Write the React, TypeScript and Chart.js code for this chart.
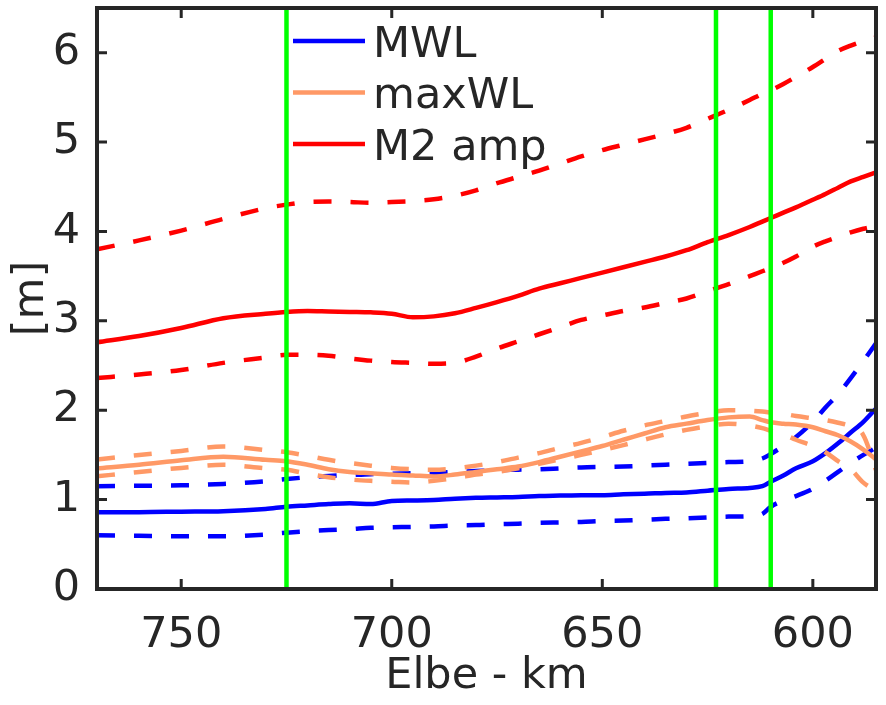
import { useEffect, useRef } from 'react';
import { Chart, registerables } from 'chart.js';

Chart.register(...registerables);

// Elbe-km positions shared by all profiles (x axis is reversed)
const KM = [770, 760, 750, 740, 730, 725, 720, 715, 710, 705, 700, 695, 690, 685, 680, 675, 670, 665, 660, 655, 650, 645, 640, 635, 630, 625, 620, 615, 612, 610, 607, 604, 600, 597, 594, 591, 588, 585];

const MWL = [0.86, 0.86, 0.865, 0.87, 0.895, 0.92, 0.935, 0.95, 0.96, 0.95, 0.985, 0.99, 0.995, 1.01, 1.02, 1.025, 1.03, 1.04, 1.045, 1.05, 1.05, 1.06, 1.065, 1.075, 1.08, 1.1, 1.12, 1.13, 1.15, 1.2, 1.27, 1.35, 1.43, 1.52, 1.63, 1.75, 1.87, 2.02];
const MWL_HI = [1.15, 1.155, 1.16, 1.175, 1.205, 1.23, 1.25, 1.265, 1.275, 1.285, 1.29, 1.295, 1.3, 1.31, 1.32, 1.33, 1.335, 1.34, 1.35, 1.36, 1.365, 1.37, 1.38, 1.39, 1.4, 1.41, 1.42, 1.43, 1.46, 1.51, 1.6, 1.7, 1.87, 2.03, 2.18, 2.36, 2.55, 2.75];
const MWL_LO = [0.6, 0.595, 0.59, 0.59, 0.61, 0.63, 0.645, 0.66, 0.67, 0.685, 0.69, 0.695, 0.7, 0.71, 0.715, 0.725, 0.73, 0.74, 0.745, 0.75, 0.76, 0.765, 0.775, 0.785, 0.79, 0.8, 0.81, 0.815, 0.84, 0.92, 0.99, 1.04, 1.12, 1.21, 1.31, 1.41, 1.5, 1.58];

const MAXWL = [1.35, 1.39, 1.44, 1.48, 1.445, 1.43, 1.39, 1.34, 1.31, 1.295, 1.28, 1.27, 1.26, 1.28, 1.31, 1.34, 1.37, 1.42, 1.48, 1.54, 1.6, 1.67, 1.74, 1.81, 1.85, 1.89, 1.92, 1.93, 1.89, 1.865, 1.85, 1.84, 1.81, 1.765, 1.72, 1.65, 1.56, 1.45];
const MAXWL_HI = [1.45, 1.5, 1.545, 1.595, 1.555, 1.53, 1.49, 1.445, 1.41, 1.38, 1.355, 1.34, 1.335, 1.35, 1.38, 1.42, 1.47, 1.52, 1.58, 1.635, 1.7, 1.77, 1.83, 1.88, 1.93, 1.97, 2.0, 1.995, 1.985, 1.975, 1.96, 1.935, 1.91, 1.89, 1.86, 1.82, 1.72, 1.33];
const MAXWL_LO = [1.26, 1.31, 1.355, 1.39, 1.35, 1.335, 1.29, 1.25, 1.225, 1.21, 1.2, 1.19, 1.21, 1.24, 1.28, 1.31, 1.35, 1.4, 1.45, 1.5, 1.555, 1.61, 1.67, 1.73, 1.78, 1.82, 1.85, 1.83, 1.8, 1.77, 1.73, 1.67, 1.6, 1.53, 1.43, 1.34, 1.19, 1.1];

const M2 = [2.76, 2.83, 2.92, 3.03, 3.08, 3.1, 3.11, 3.105, 3.1, 3.095, 3.08, 3.04, 3.05, 3.085, 3.145, 3.21, 3.28, 3.36, 3.42, 3.48, 3.54, 3.6, 3.66, 3.72, 3.79, 3.88, 3.96, 4.05, 4.11, 4.15, 4.21, 4.27, 4.355, 4.42, 4.49, 4.56, 4.61, 4.66];
const M2_HI = [3.8, 3.9, 4.01, 4.14, 4.26, 4.3, 4.33, 4.335, 4.33, 4.32, 4.33, 4.34, 4.36, 4.4, 4.46, 4.54, 4.61, 4.68, 4.76, 4.84, 4.91, 4.97, 5.03, 5.09, 5.16, 5.26, 5.36, 5.47, 5.54, 5.58, 5.65, 5.73, 5.84, 5.93, 6.02, 6.08, 6.13, 6.17];
const M2_LO = [2.36, 2.4, 2.45, 2.53, 2.59, 2.62, 2.62, 2.61, 2.58, 2.555, 2.54, 2.53, 2.52, 2.53, 2.6, 2.69, 2.77, 2.85, 2.93, 3.01, 3.06, 3.11, 3.15, 3.2, 3.25, 3.33, 3.41, 3.5, 3.555, 3.59, 3.65, 3.72, 3.83, 3.89, 3.94, 3.99, 4.03, 4.06];

// green markers
const MARK_KM = [725, 623, 610];

const X_TICKS = [750, 700, 650, 600];
const Y_TICKS = [0, 1, 2, 3, 4, 5, 6];
const X_MIN = 585;
const X_MAX = 770;
const Y_MAX = 6.5;

const LEGEND_LABELS = ['MWL', 'maxWL', 'M2 amp'];

const BLUE = '#0000ff';
const ORANGE = '#ff9966';
const RED = '#ff0000';
const GREEN = '#00ff00';
const INK = '#262626';
const LEGEND_COLORS = [BLUE, ORANGE, RED];

const FONT = 'DejaVu Sans';
const FONT_SIZE = 43;
const LW = 4.5;
const DASH = [18, 19];

function line(values: number[], color: string, dashed: boolean, order: number) {
  return {
    data: KM.map((x, i) => ({ x, y: values[i] })),
    borderColor: color,
    borderWidth: LW,
    borderDash: dashed ? DASH : [],
    pointRadius: 0,
    cubicInterpolationMode: 'monotone' as const,
    fill: false,
    order,
  };
}

// box round the axes with inward tick marks on all four sides
const framePlugin = {
  id: 'frame',
  afterDatasetsDraw(chart: any) {
    const { ctx, chartArea: a, scales } = chart;
    const tick = 10;
    ctx.save();
    ctx.strokeStyle = INK;
    ctx.lineWidth = 3;
    ctx.beginPath();
    X_TICKS.forEach((v) => {
      const px = scales.x.getPixelForValue(v);
      ctx.moveTo(px, a.bottom);
      ctx.lineTo(px, a.bottom - tick);
      ctx.moveTo(px, a.top);
      ctx.lineTo(px, a.top + tick);
    });
    Y_TICKS.forEach((v) => {
      const py = scales.y.getPixelForValue(v);
      ctx.moveTo(a.left, py);
      ctx.lineTo(a.left + tick, py);
      ctx.moveTo(a.right, py);
      ctx.lineTo(a.right - tick, py);
    });
    ctx.stroke();
    ctx.lineWidth = 4;
    ctx.strokeRect(a.left, a.top, a.right - a.left, a.bottom - a.top);
    ctx.restore();
  },
};

// legend without box, inside the axes
const legendPlugin = {
  id: 'boxoffLegend',
  afterDraw(chart: any) {
    const { ctx, chartArea: a } = chart;
    const x0 = a.left + 196;
    const y0 = a.top + 33;
    ctx.save();
    ctx.font = `${FONT_SIZE}px "${FONT}"`;
    ctx.textBaseline = 'alphabetic';
    ctx.textAlign = 'left';
    LEGEND_LABELS.forEach((label, i) => {
      const y = y0 + i * 51.5;
      ctx.strokeStyle = LEGEND_COLORS[i];
      ctx.lineWidth = LW;
      ctx.beginPath();
      ctx.moveTo(x0, y);
      ctx.lineTo(x0 + 72, y);
      ctx.stroke();
      ctx.fillStyle = INK;
      ctx.fillText(label, x0 + 80, y + 0.365 * FONT_SIZE);
    });
    ctx.restore();
  },
};

export default function App() {
  const canvasRef = useRef<HTMLCanvasElement>(null);

  useEffect(() => {
    if (!canvasRef.current) return;

    const markers = MARK_KM.map((k) => ({
      data: [
        { x: k, y: 0 },
        { x: k, y: Y_MAX },
      ],
      borderColor: GREEN,
      borderWidth: LW,
      pointRadius: 0,
      fill: false,
      order: 0,
    }));

    const chart = new Chart(canvasRef.current, {
      type: 'line',
      data: {
        datasets: [
          ...markers,
          line(M2, RED, false, 1),
          line(M2_HI, RED, true, 1),
          line(M2_LO, RED, true, 1),
          line(MAXWL, ORANGE, false, 2),
          line(MAXWL_HI, ORANGE, true, 2),
          line(MAXWL_LO, ORANGE, true, 2),
          line(MWL, BLUE, false, 3),
          line(MWL_HI, BLUE, true, 3),
          line(MWL_LO, BLUE, true, 3),
        ] as any,
      },
      options: {
        animation: false,
        responsive: true,
        maintainAspectRatio: false,
        layout: { padding: { left: 0, right: 10, top: 8, bottom: 0 } },
        plugins: {
          legend: { display: false },
          tooltip: { enabled: false },
        },
        scales: {
          x: {
            type: 'linear',
            reverse: true,
            min: X_MIN,
            max: X_MAX,
            grid: { display: false },
            border: { display: false },
            afterBuildTicks: (scale: any) => {
              scale.ticks = X_TICKS.map((value) => ({ value }));
            },
            afterFit: (scale: any) => {
              scale.height = 116;
              scale.paddingLeft = 0;
              scale.paddingRight = 0;
            },
            ticks: {
              padding: 13,
              maxRotation: 0,
              color: INK,
              font: { family: FONT, size: FONT_SIZE },
            },
            title: {
              display: true,
              text: 'Elbe - km',
              color: INK,
              font: { family: FONT, size: FONT_SIZE },
              padding: { top: 0, bottom: 2 },
            },
          },
          y: {
            type: 'linear',
            min: 0,
            max: Y_MAX,
            grid: { display: false },
            border: { display: false },
            afterBuildTicks: (scale: any) => {
              scale.ticks = Y_TICKS.map((value) => ({ value }));
            },
            afterFit: (scale: any) => {
              scale.width = 97;
              scale.paddingTop = 0;
              scale.paddingBottom = 0;
            },
            ticks: {
              padding: 9,
              color: INK,
              font: { family: FONT, size: FONT_SIZE },
            },
            title: {
              display: true,
              text: '[m]',
              color: INK,
              font: { family: FONT, size: FONT_SIZE },
              padding: { top: 6, bottom: 0 },
            },
          },
        },
      },
      plugins: [framePlugin, legendPlugin],
    });

    return () => chart.destroy();
  }, []);

  return (
    <div style={{ position: 'fixed', left: 0, top: 0, width: 886, height: 705, background: '#fff' }}>
      <canvas ref={canvasRef} />
    </div>
  );
}
